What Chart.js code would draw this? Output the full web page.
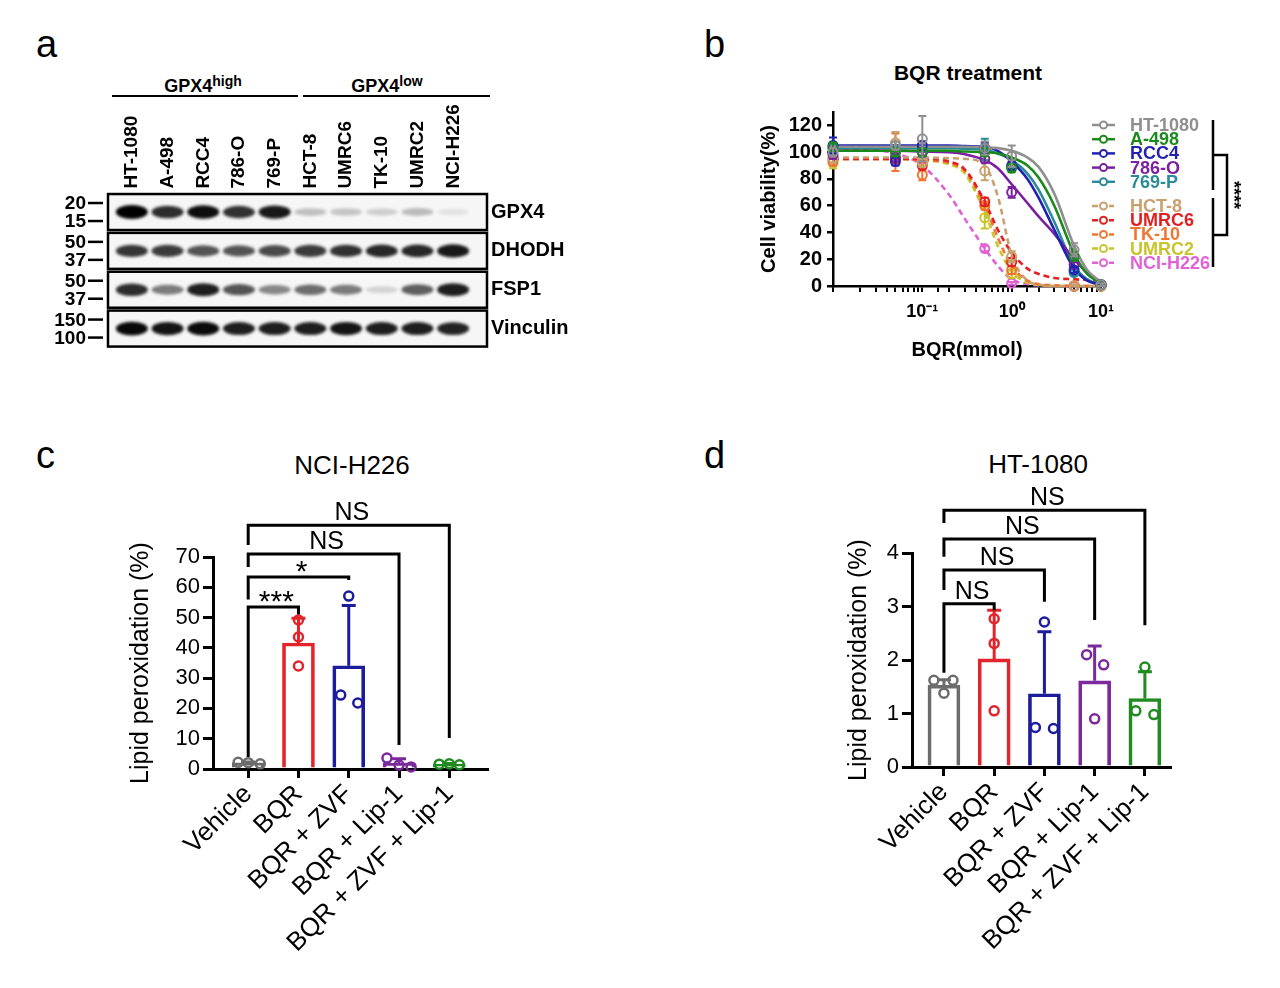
<!DOCTYPE html>
<html>
<head>
<meta charset="utf-8">
<script src="https://cdn.jsdelivr.net/npm/chart.js@4.4.1/dist/chart.umd.min.js"></script>
<style>
  html, body { margin:0; padding:0; background:#fff; }
  body { width:1280px; height:988px; position:relative; overflow:hidden;
         font-family:"Liberation Sans", Arial, Helvetica, sans-serif; color:#000; }
  canvas { position:absolute; }
  .t { position:absolute; line-height:1; white-space:nowrap; }
  .letter { font-size:38px; }
  .rule { position:absolute; height:0; border-top:2.5px solid #000; }
  .sup { font-size:14px; position:relative; top:-6px; }
</style>
</head>
<body>
<div class="t letter" style="left:36px;top:25px">a</div>
<div class="t letter" style="left:704px;top:25px">b</div>
<div class="t letter" style="left:36px;top:436px">c</div>
<div class="t letter" style="left:704px;top:436px">d</div>

<div class="t" style="left:103px;top:77px;width:200px;text-align:center;font-weight:bold;font-size:18px">GPX4<span class="sup">high</span></div>
<div class="t" style="left:287px;top:77px;width:200px;text-align:center;font-weight:bold;font-size:18px">GPX4<span class="sup">low</span></div>
<div class="rule" style="left:112px;top:95px;width:186px"></div>
<div class="rule" style="left:303px;top:95px;width:187px"></div>

<div class="t" style="left:818px;top:62px;width:300px;text-align:center;font-weight:bold;font-size:21px">BQR treatment</div>
<div class="t" style="left:202px;top:452px;width:300px;text-align:center;font-size:26px">NCI-H226</div>
<div class="t" style="left:888px;top:451px;width:300px;text-align:center;font-size:26px">HT-1080</div>

<canvas id="chartA" width="640" height="380" style="left:0;top:0"></canvas>
<canvas id="chartB" width="560" height="330" style="left:700px;top:50px"></canvas>
<canvas id="chartC" width="640" height="508" style="left:0;top:480px"></canvas>
<canvas id="chartD" width="640" height="508" style="left:640px;top:480px"></canvas>

<script>
// ================= DATA =================
// ---- Panel a: western blot band intensities (0..1) ----
const LANES = ['HT-1080','A-498','RCC4','786-O','769-P','HCT-8','UMRC6','TK-10','UMRC2','NCI-H226'];
const PROTEINS = ['GPX4','DHODH','FSP1','Vinculin'];
const GPX4_BAND     = [1.00,0.82,0.95,0.80,0.90,0.22,0.20,0.16,0.24,0.08];
const DHODH_BAND    = [0.78,0.76,0.66,0.66,0.70,0.76,0.80,0.84,0.84,0.90];
const FSP1_BAND     = [0.82,0.50,0.88,0.66,0.45,0.56,0.50,0.14,0.62,0.88];
const VINCULIN_BAND = [0.97,0.92,0.96,0.88,0.88,0.88,0.92,0.88,0.88,0.86];
const MW_UPPER = ['20','50','50','150'];
const MW_LOWER = ['15','37','37','100'];

// ---- Panel b: BQR dose response ----
const DOSES = [0.01,0.05,0.1,0.5,1,5,10];
const FIT_X = [0.01,0.02,0.05,0.1,0.2,0.3,0.5,0.7,1,1.5,2,3,5,7,10];
const B_Y_TICKS = [0,20,40,60,80,100,120];
const B_X_TICK_POWERS = [-1,0,1];
const B_X_TICK_LABELS = ['10\u207B\u00B9','10\u2070','10\u00B9'];

const VIAB_HT1080 = [100,105,110,103,97,27,1];
const SD_HT1080   = [3,3,17,5,8,5,1];
const FIT_HT1080  = [104,104,104,104,104,104,103.5,103,101,96,89,69,30,12,3];
const VIAB_A498 = [104,100,100,100,88,22,1];
const SD_A498   = [3,3,3,3,3,3,1];
const FIT_A498  = [101,101,101,101,101,100.5,100,99,96,90,81,60,24,9,2];
const VIAB_RCC4 = [105,93,105,103,90,12,1];
const SD_RCC4   = [6,3,3,4,3,2,1];
const FIT_RCC4  = [105,105,105,105,105,104.5,104,101,93,80,66,42,13,4,1];
const VIAB_786O = [98,96,100,95,70,16,1];
const SD_786O   = [3,3,3,3,4,2,1];
const FIT_786O  = [101,101,101,100.5,100,98.5,94,88,76,62,52,39,20,10,3];
const VIAB_769P = [103,101,100,102,89,10,1];
const SD_769P   = [3,3,3,8,3,2,1];
const FIT_769P  = [103,103,103,103,103,102.5,102,99,94,84,72,48,15,5,1];
const VIAB_HCT8 = [95,107,92,86,22,0,0];
const SD_HCT8   = [3,8,3,7,4,1,0];
const FIT_HCT8  = [96,96,96,96,95.5,95,90,67,23,4,1,0,0,0,0];
const VIAB_UMRC6 = [95,95,90,63,18,0,1];
const SD_UMRC6   = [3,3,3,3,3,1,0];
const FIT_UMRC6  = [95,95,95,95,93,87,63,42,25,13,9,6,5,4.5,4];
const VIAB_TK10 = [93,100,83,60,12,0,0];
const SD_TK10   = [3,14,4,3,3,1,0];
const FIT_TK10  = [95,95,95,94,92,86,60,36,15,4,1.5,0.5,0,0,0];
const VIAB_UMRC2 = [92,95,93,51,9,0,0];
const SD_UMRC2   = [4,3,3,8,3,0,0];
const FIT_UMRC2  = [95,95,95,94,91,84,55,30,11,2.5,1,0,0,0,0];
const VIAB_H226 = [102,100,95,28,2,0,0];
const SD_H226   = [2,3,3,2,1,0,0];
const FIT_H226  = [102,102,99,90,68,50,28,15,5,1.5,0.5,0,0,0,0];

// ---- Panels c, d: lipid peroxidation ----
const CONDITIONS = ['Vehicle','BQR','BQR + ZVF','BQR + Lip-1','BQR + ZVF + Lip-1'];
const LPO_H226_MEAN = [2.0,41.6,34.1,1.9,1.6];
const LPO_H226_SD   = [0.3,8.2,19.9,1.5,0.2];
const LPO_H226_REPS = [[2.2,2.1,1.7],[49.2,43.6,34.0],[57.1,24.4,21.8],[3.6,1.3,0.7],[1.6,1.7,1.4]];
const LPO_H226_TICKS = [0,10,20,30,40,50,60,70];
const H226_BR_TO    = [1,2,3,4];
const H226_BR_LEVEL = [53.5,63.4,71.0,80.5];
const H226_BR_LEFT  = [4,56,66.7,74];
const H226_BR_RIGHT = [51,62.4,7.9,10.2];
const H226_BR_TEXT  = ['***','*','NS','NS'];

const LPO_HT_MEAN = [1.53,2.02,1.37,1.61,1.28];
const LPO_HT_SD   = [0.10,0.91,1.16,0.65,0.50];
const LPO_HT_REPS = [[1.62,1.62,1.38],[2.77,2.31,1.05],[2.71,0.74,0.72],[2.10,1.91,0.90],[1.87,1.05,0.98]];
const LPO_HT_TICKS = [0,1,2,3,4];
const HT_BR_TO    = [1,2,3,4];
const HT_BR_LEVEL = [3.05,3.68,4.26,4.80];
const HT_BR_LEFT  = [1.76,3.31,3.93,4.56];
const HT_BR_RIGHT = [2.93,3.09,2.75,2.65];
const HT_BR_TEXT  = ['NS','NS','NS','NS'];

// ================= STYLE =================
const FONT = '"Liberation Sans", Arial, Helvetica, sans-serif';
Chart.defaults.font.family = FONT;
Chart.defaults.color = '#000';
Chart.defaults.animation = false;
Chart.defaults.responsive = false;
Chart.defaults.devicePixelRatio = 1;
Chart.defaults.events = [];
Chart.defaults.plugins.legend.display = false;
Chart.defaults.plugins.tooltip.enabled = false;

const GROUP_COLORS = ['#6c6c6c','#e3242b','#1c1c9c','#7b2a9c','#218a21'];
const JITTER_C = [[-0.2,0,0.24],[0,0,0],[0,-0.16,0.18],[-0.24,0,0.24],[-0.2,0,0.2]];
const JITTER_D = [[-0.2,0.18,0],[0,0,0],[0,-0.18,0.18],[-0.16,0.18,0],[0,-0.18,0.18]];

// ================= PANEL A =================
const BAND_TABLE = [GPX4_BAND, DHODH_BAND, FSP1_BAND, VINCULIN_BAND];
const blotPlugin = {
  id: 'blot',
  beforeDatasetsDraw(chart) {
    const {ctx, chartArea: a, scales: {x, y}} = chart;
    ctx.save();
    chart.data.datasets.forEach((ds, r) => {
      const yc = y.getPixelForValue(r);
      const top = yc - 18, h = 36;
      const left = a.left - 6, right = a.right + 16;
      ctx.fillStyle = '#f6f6f6';
      ctx.fillRect(left, top, right - left, h);
      ds.data.forEach((d, i) => {
        const xc = x.getPixelForValue(i);
        ctx.save();
        ctx.beginPath();
        ctx.rect(left, top, right - left, h);
        ctx.clip();
        ctx.filter = 'blur(1.8px)';
        ctx.fillStyle = 'rgba(0,0,0,' + Math.min(1, d.v).toFixed(3) + ')';
        ctx.beginPath();
        ctx.ellipse(xc, yc, 16, 3 + 4 * d.v, 0, 0, Math.PI * 2);
        ctx.fill();
        ctx.restore();
      });
      ctx.lineWidth = 2.5;
      ctx.strokeStyle = '#000';
      ctx.strokeRect(left, top, right - left, h);
      // molecular weight markers
      ctx.fillStyle = '#000';
      ctx.font = 'bold 19px ' + FONT;
      ctx.textAlign = 'right';
      ctx.textBaseline = 'middle';
      [[ds.mwUpper, -9], [ds.mwLower, 9]].forEach(([lab, dy]) => {
        ctx.fillText(lab, left - 22, yc + dy + 1);
        ctx.beginPath();
        ctx.moveTo(left - 20, yc + dy);
        ctx.lineTo(left - 5, yc + dy);
        ctx.stroke();
      });
    });
    ctx.restore();
  }
};

new Chart(document.getElementById('chartA'), {
  type: 'scatter',
  data: {
    datasets: PROTEINS.map((p, r) => ({
      label: p,
      data: LANES.map((lane, i) => ({x: lane, y: p, v: BAND_TABLE[r][i]})),
      pointRadius: 0,
      mwUpper: MW_UPPER[r],
      mwLower: MW_LOWER[r]
    }))
  },
  options: {
    layout: {padding: {left: 114, right: 0, top: 0, bottom: 32}},
    scales: {
      x: {
        type: 'category', labels: LANES, position: 'top', offset: true,
        grid: {display: false, drawTicks: false}, border: {display: false},
        ticks: {autoSkip: false, minRotation: 90, maxRotation: 90, padding: 4, labelOffset: 23,
                font: {size: 19, weight: 'bold'}, color: '#000'},
        afterFit(s) { s.height = 192.6; }
      },
      y: {
        type: 'category', labels: PROTEINS, position: 'right', offset: true,
        grid: {display: false, drawTicks: false}, border: {display: false},
        ticks: {autoSkip: false, padding: 20, font: {size: 20, weight: 'bold'}, color: '#000'},
        afterFit(s) { s.width = 169; }
      }
    }
  },
  plugins: [blotPlugin]
});

// ================= PANEL B =================
const SERIES_B = [
  {name: 'HT-1080',  mean: VIAB_HT1080, sd: SD_HT1080, fit: FIT_HT1080, color: '#8f8f8f', dash: false},
  {name: 'A-498',    mean: VIAB_A498,   sd: SD_A498,   fit: FIT_A498,   color: '#1b8a1b', dash: false},
  {name: 'RCC4',     mean: VIAB_RCC4,   sd: SD_RCC4,   fit: FIT_RCC4,   color: '#2222b2', dash: false},
  {name: '786-O',    mean: VIAB_786O,   sd: SD_786O,   fit: FIT_786O,   color: '#7a20a0', dash: false},
  {name: '769-P',    mean: VIAB_769P,   sd: SD_769P,   fit: FIT_769P,   color: '#2a8c98', dash: false},
  {name: 'HCT-8',    mean: VIAB_HCT8,   sd: SD_HCT8,   fit: FIT_HCT8,   color: '#c9a070', dash: true},
  {name: 'UMRC6',    mean: VIAB_UMRC6,  sd: SD_UMRC6,  fit: FIT_UMRC6,  color: '#e3201f', dash: true},
  {name: 'TK-10',    mean: VIAB_TK10,   sd: SD_TK10,   fit: FIT_TK10,   color: '#ef7530', dash: true},
  {name: 'UMRC2',    mean: VIAB_UMRC2,  sd: SD_UMRC2,  fit: FIT_UMRC2,  color: '#c8c42a', dash: true},
  {name: 'NCI-H226', mean: VIAB_H226,   sd: SD_H226,   fit: FIT_H226,   color: '#e063d6', dash: true}
];

const dsB = [];
SERIES_B.forEach(s => {
  dsB.push({
    type: 'line', label: s.name + ' points', showLine: false,
    data: DOSES.map((x, i) => ({x, y: s.mean[i]})),
    symErr: s.sd,
    pointRadius: 4.5, pointBorderWidth: 2, pointBorderColor: s.color,
    pointBackgroundColor: 'rgba(255,255,255,0)', borderColor: s.color, clip: false
  });
});
SERIES_B.forEach(s => {
  dsB.push({
    type: 'line', label: s.name,
    data: FIT_X.map((x, i) => ({x, y: s.fit[i]})),
    borderColor: s.color, borderWidth: 2.6, borderDash: s.dash ? [6, 4] : [],
    pointRadius: 0, cubicInterpolationMode: 'monotone', fill: false, clip: false
  });
});

const symErrPlugin = {
  id: 'symErr',
  beforeDatasetDraw(chart, args) {
    const ds = chart.data.datasets[args.index];
    if (!ds.symErr) return;
    const {ctx, scales: {x, y}} = chart;
    ctx.save();
    ctx.strokeStyle = ds.borderColor;
    ctx.lineWidth = 2;
    ds.data.forEach((p, i) => {
      const e = ds.symErr[i];
      if (!e) return;
      const px = x.getPixelForValue(p.x);
      const y1 = y.getPixelForValue(p.y + e), y2 = y.getPixelForValue(Math.max(0, p.y - e));
      ctx.beginPath();
      ctx.moveTo(px, y1); ctx.lineTo(px, y2);
      ctx.moveTo(px - 4, y1); ctx.lineTo(px + 4, y1);
      ctx.moveTo(px - 4, y2); ctx.lineTo(px + 4, y2);
      ctx.stroke();
    });
    ctx.restore();
  }
};

const legendBPlugin = {
  id: 'legendB',
  afterDraw(chart) {
    const {ctx, chartArea: a} = chart;
    ctx.save();
    ctx.font = 'bold 18px ' + FONT;
    ctx.textAlign = 'left';
    ctx.textBaseline = 'middle';
    const x0 = a.right - 9;
    let solidIdx = 0, dashIdx = 0;
    SERIES_B.forEach(s => {
      const yy = s.dash ? a.top + 94 + 14.2 * dashIdx++ : a.top + 13 + 14.2 * solidIdx++;
      ctx.strokeStyle = s.color;
      ctx.lineWidth = 2.5;
      ctx.beginPath();
      if (s.dash) {
        ctx.moveTo(x0, yy); ctx.lineTo(x0 + 6, yy);
        ctx.moveTo(x0 + 17, yy); ctx.lineTo(x0 + 22, yy);
      } else {
        ctx.moveTo(x0, yy); ctx.lineTo(x0 + 23, yy);
      }
      ctx.stroke();
      ctx.lineWidth = 2;
      ctx.fillStyle = '#fff';
      ctx.beginPath();
      ctx.arc(x0 + 11.5, yy, 3.5, 0, Math.PI * 2);
      ctx.fill(); ctx.stroke();
      ctx.fillStyle = s.color;
      ctx.fillText(s.name, a.right + 29, yy + 1);
    });
    // significance bracket
    const bx = a.right + 112;
    ctx.strokeStyle = '#000';
    ctx.lineWidth = 2.5;
    ctx.beginPath();
    ctx.moveTo(bx, a.top + 8); ctx.lineTo(bx, a.top + 78);
    ctx.moveTo(bx, a.top + 86); ctx.lineTo(bx, a.top + 155);
    ctx.moveTo(bx, a.top + 43); ctx.lineTo(bx + 14, a.top + 43);
    ctx.lineTo(bx + 14, a.top + 123); ctx.lineTo(bx, a.top + 123);
    ctx.stroke();
    ctx.fillStyle = '#000';
    ctx.font = 'bold 18px ' + FONT;
    ctx.translate(bx + 20, a.top + 83);
    ctx.rotate(Math.PI / 2);
    ctx.textAlign = 'center';
    ctx.textBaseline = 'middle';
    ctx.fillText('****', 0, 0);
    ctx.restore();
  }
};

new Chart(document.getElementById('chartB'), {
  type: 'line',
  data: {datasets: dsB},
  options: {
    layout: {padding: {left: 55, right: 159, top: 62, bottom: 0}},
    scales: {
      x: {
        type: 'logarithmic', min: 0.01, max: 10,
        title: {display: true, text: 'BQR(mmol)', font: {size: 20, weight: 'bold'}, color: '#000',
                padding: {top: 0, bottom: 18}},
        ticks: {
          autoSkip: false, maxRotation: 0, padding: 9,
          font: {size: 18, weight: 'bold'}, color: '#000',
          callback: (v) => {
            const lg = Math.log10(v);
            const k = B_X_TICK_POWERS.findIndex(p => Math.abs(p - lg) < 1e-6);
            return k >= 0 ? B_X_TICK_LABELS[k] : '';
          }
        },
        grid: {drawOnChartArea: false, drawTicks: true, tickLength: 6, color: '#000', lineWidth: 2},
        border: {display: true, color: '#000', width: 2.5},
        afterFit(s) { s.height = 94; }
      },
      y: {
        type: 'linear', min: 0, max: 130,
        afterBuildTicks(s) { s.ticks = B_Y_TICKS.map(v => ({value: v})); },
        title: {display: true, text: 'Cell viability(%)', font: {size: 20, weight: 'bold'}, color: '#000',
                padding: {top: 2, bottom: 0}},
        ticks: {font: {size: 20, weight: 'bold'}, color: '#000', padding: 5},
        grid: {drawOnChartArea: false, tickLength: 6, color: '#000', lineWidth: 2.5},
        border: {display: true, color: '#000', width: 2.5},
        afterFit(s) { s.width = 78; }
      }
    }
  },
  plugins: [symErrPlugin, legendBPlugin]
});

// ================= PANELS C, D =================
function makeUpErrPlugin(sd, colors) {
  return {
    id: 'upErr',
    afterDatasetDraw(chart, args) {
      const ds = chart.data.datasets[args.index];
      if (ds.type !== 'bar') return;
      const {ctx, scales: {x, y}} = chart;
      ctx.save();
      ctx.lineWidth = 3;
      ds.data.forEach((p, i) => {
        const px = x.getPixelForValue(p.x);
        const y0 = y.getPixelForValue(p.y), y1 = y.getPixelForValue(p.y + sd[i]);
        ctx.strokeStyle = colors[i];
        ctx.beginPath();
        ctx.moveTo(px, y0); ctx.lineTo(px, y1);
        ctx.moveTo(px - 7, y1); ctx.lineTo(px + 7, y1);
        ctx.stroke();
      });
      ctx.restore();
    }
  };
}

function makeBracketPlugin(to, level, leftEnd, rightEnd, text) {
  return {
    id: 'brackets',
    afterDatasetsDraw(chart) {
      const {ctx, scales: {x, y}} = chart;
      ctx.save();
      ctx.strokeStyle = '#000';
      ctx.fillStyle = '#000';
      ctx.lineWidth = 3;
      ctx.lineJoin = 'miter';
      to.forEach((t, i) => {
        const x1 = x.getPixelForValue(0), x2 = x.getPixelForValue(t);
        const yl = y.getPixelForValue(level[i]);
        const y1 = y.getPixelForValue(leftEnd[i]), y2 = y.getPixelForValue(rightEnd[i]);
        ctx.beginPath();
        ctx.moveTo(x1, y1); ctx.lineTo(x1, yl); ctx.lineTo(x2, yl); ctx.lineTo(x2, y2);
        ctx.stroke();
        const star = /^\*+$/.test(text[i]);
        ctx.font = (star ? '30px ' : '25px ') + FONT;
        ctx.textAlign = 'center';
        ctx.textBaseline = 'alphabetic';
        ctx.fillText(text[i], (x1 + x2) / 2 + 3, yl + (star ? 4 : -5));
      });
      ctx.restore();
    }
  };
}

function barPanel(id, o) {
  const dots = [], dotColors = [];
  o.reps.forEach((arr, i) => arr.forEach((v, k) => {
    dots.push({x: i + o.jitter[i][k], y: v});
    dotColors.push(GROUP_COLORS[i]);
  }));
  return new Chart(document.getElementById(id), {
    type: 'bar',
    data: {
      datasets: [
        {type: 'scatter', label: 'replicates', data: dots, pointRadius: 4.5, pointBorderWidth: 2.5,
         pointBorderColor: dotColors, pointBackgroundColor: 'rgba(255,255,255,0)', clip: false},
        {type: 'bar', label: 'mean', data: o.means.map((m, i) => ({x: i, y: m})),
         barThickness: 32, borderWidth: 3, borderColor: GROUP_COLORS,
         backgroundColor: 'rgba(255,255,255,0)', clip: false}
      ]
    },
    options: {
      layout: {padding: o.padding},
      scales: {
        x: {
          type: 'linear', min: o.xmin, max: o.xmax, offset: false,
          afterBuildTicks(s) { s.ticks = CONDITIONS.map((_, i) => ({value: i})); },
          ticks: {autoSkip: false, minRotation: 45, maxRotation: 45, padding: 1,
                  font: {size: 26}, color: '#000', callback: (v) => CONDITIONS[v]},
          grid: {offset: false, drawOnChartArea: false, tickLength: 9, lineWidth: 3, color: '#000'},
          border: {display: true, width: 3, color: '#000'},
          afterFit(s) { s.height = o.xh; }
        },
        y: {
          type: 'linear', min: 0, max: o.ymax,
          afterBuildTicks(s) { s.ticks = o.yticks.map(v => ({value: v})); },
          ticks: {padding: 3, font: {size: 22}, color: '#000'},
          grid: {drawOnChartArea: false, tickLength: 10, lineWidth: 3, color: '#000'},
          border: {display: true, width: 3, color: '#000'},
          title: {display: true, text: 'Lipid peroxidation (%)', font: {size: 25}, color: '#000',
                  padding: {top: o.ytitlePad, bottom: 0}},
          afterFit(s) { s.width = o.yw; }
        }
      }
    },
    plugins: [makeUpErrPlugin(o.sd, GROUP_COLORS), o.brackets]
  });
}

barPanel('chartC', {
  means: LPO_H226_MEAN, sd: LPO_H226_SD, reps: LPO_H226_REPS, jitter: JITTER_C,
  yticks: LPO_H226_TICKS, ymax: 70, xmin: -0.7, xmax: 4.75,
  padding: {left: 0, right: 153, top: 77, bottom: 0}, yw: 213, xh: 219, ytitlePad: 126,
  brackets: makeBracketPlugin(H226_BR_TO, H226_BR_LEVEL, H226_BR_LEFT, H226_BR_RIGHT, H226_BR_TEXT)
});

barPanel('chartD', {
  means: LPO_HT_MEAN, sd: LPO_HT_SD, reps: LPO_HT_REPS, jitter: JITTER_D,
  yticks: LPO_HT_TICKS, ymax: 4, xmin: -0.636, xmax: 4.5,
  padding: {left: 0, right: 110, top: 73, bottom: 0}, yw: 272, xh: 221, ytitlePad: 204,
  brackets: makeBracketPlugin(HT_BR_TO, HT_BR_LEVEL, HT_BR_LEFT, HT_BR_RIGHT, HT_BR_TEXT)
});
</script>
</body>
</html>
